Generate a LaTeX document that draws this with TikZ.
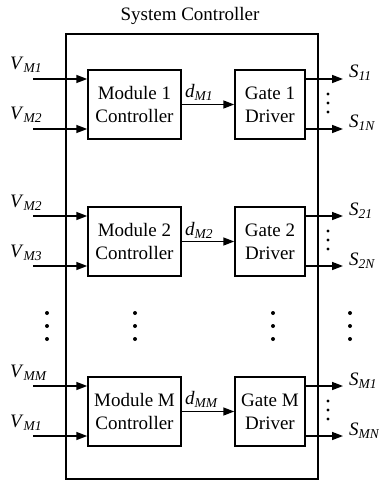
\documentclass[tikz,border=0pt]{standalone}
\usepackage{fontspec}
\setmainfont{Liberation Serif}
\usetikzlibrary{arrows.meta}
\newcommand\lab[2]{\textit{#1}\raisebox{-3pt}{\fontsize{13.5}{14}\selectfont\textit{#2}}}
\tikzset{
  blk/.style={draw, line width=1.5pt, align=center, inner sep=0pt, minimum height=69pt},
  modbox/.style={blk, minimum width=93pt},
  gatebox/.style={blk, minimum width=70pt},
  arr/.style={line width=1.5pt, -{Triangle[length=11pt,width=8pt]}},
  lbl/.style={anchor=base west, inner sep=0pt},
  dotc/.style={fill=black}
}
\begin{document}
\begin{tikzpicture}[x=1pt,y=-1pt, font=\fontsize{19}{23}\selectfont]
\useasboundingbox (0,0) rectangle (378,484);
% outer box
\node[draw, line width=1.5pt, minimum width=252pt, minimum height=445pt, inner sep=0pt] (sys) at (192,256.5) {};
\node[anchor=base, inner sep=0pt] (title) at (190,21) {System Controller};
% blocks
\node[modbox] (m1) at (134.5,104.5) {Module 1\\Controller};
\node[gatebox] (g1) at (270,104.5) {Gate 1\\Driver};
\node[modbox] (m2) at (134.5,241.5) {Module 2\\Controller};
\node[gatebox] (g2) at (270,241.5) {Gate 2\\Driver};
\node[modbox] (mM) at (134.5,411.5) {Module M\\Controller};
\node[gatebox] (gM) at (270,411.5) {Gate M\\Driver};
% internal arrows
\draw[arr] (m1.east) -- (g1.west);
\draw[arr] (m2.east) -- (g2.west);
\draw[arr] (mM.east) -- (gM.west);
\node[lbl] (d1) at (185,98) {\lab{d}{M1}};
\node[lbl] (d2) at (185,235) {\lab{d}{M2}};
\node[lbl] (dM) at (185,404) {\lab{d}{MM}};
% inputs
\foreach \n/\y in {a/79, b/129, c/216, d/266, e/386, f/436} {
  \coordinate (in\n) at (33,\y);
}
\draw[arr] (ina) -- (ina -| m1.west);
\draw[arr] (inb) -- (inb -| m1.west);
\draw[arr] (inc) -- (inc -| m2.west);
\draw[arr] (ind) -- (ind -| m2.west);
\draw[arr] (ine) -- (ine -| mM.west);
\draw[arr] (inf) -- (inf -| mM.west);
\node[lbl] (la) at (10,70) {\lab{V}{M1}};
\node[lbl] (lb) at (10,120) {\lab{V}{M2}};
\node[lbl] (lc) at (10,207) {\lab{V}{M2}};
\node[lbl] (ld) at (10,257) {\lab{V}{M3}};
\node[lbl] (le) at (10,377) {\lab{V}{MM}};
\node[lbl] (lf) at (10,427) {\lab{V}{M1}};
% outputs
\foreach \n/\y in {a/79, b/129, c/216, d/266, e/386, f/436} {
  \coordinate (out\n) at (343,\y);
}
\draw[arr] (outa -| g1.east) -- (outa);
\draw[arr] (outb -| g1.east) -- (outb);
\draw[arr] (outc -| g2.east) -- (outc);
\draw[arr] (outd -| g2.east) -- (outd);
\draw[arr] (oute -| gM.east) -- (oute);
\draw[arr] (outf -| gM.east) -- (outf);
\node[lbl] (sa) at (349,78) {\lab{S}{11}};
\node[lbl] (sb) at (349,128) {\lab{S}{1N}};
\node[lbl] (sc) at (349,215) {\lab{S}{21}};
\node[lbl] (sd) at (349,265) {\lab{S}{2N}};
\node[lbl] (se) at (349,385) {\lab{S}{M1}};
\node[lbl] (sf) at (349,435) {\lab{S}{MN}};
% small dots between outputs
\foreach \c in {104, 241, 411} {
  \foreach \o in {-10,-1,8} {
    \fill[dotc] (328,\c+\o) circle (1.7pt);
  }
}
% large vertical dots
\foreach \x in {47, 135, 273, 350} {
  \foreach \y in {313, 326, 339} {
    \fill[dotc] (\x,\y) circle (2pt);
  }
}
\end{tikzpicture}
\end{document}
